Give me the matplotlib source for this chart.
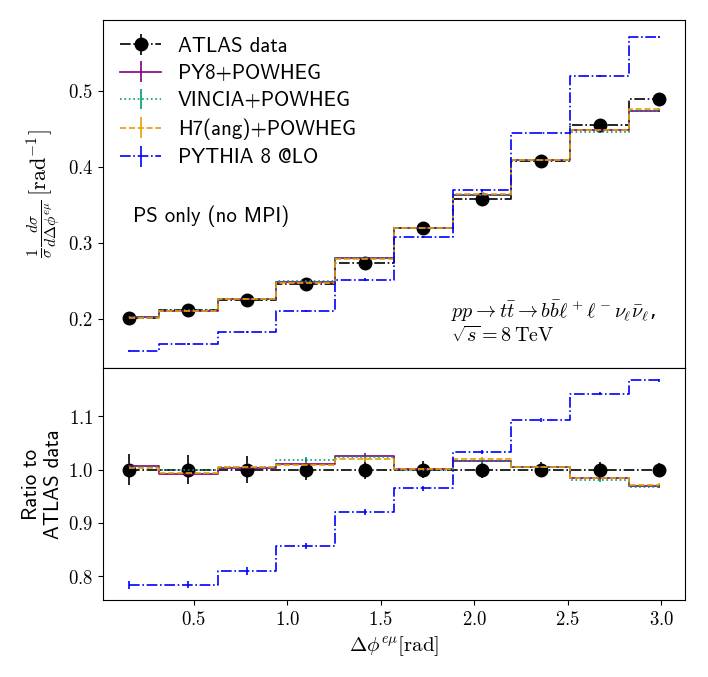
import numpy as np
import matplotlib
matplotlib.use("Agg")
import matplotlib.pyplot as plt
from matplotlib.ticker import FuncFormatter

plt.rcParams['mathtext.fontset'] = 'cm'
sans = ['cmss10', 'DejaVu Sans']

# bin centres of delta phi (rad)
dphi = [0.157, 0.471, 0.785, 1.100, 1.414, 1.728, 2.042, 2.356, 2.670, 2.985]

atlas = [0.201, 0.212, 0.225, 0.245, 0.273, 0.319, 0.357, 0.407, 0.455, 0.489]
atlas_err = [0.0060, 0.0057, 0.0056, 0.0049, 0.0049, 0.0051, 0.0054, 0.0057, 0.0064, 0.0064]

py8 = [0.2022, 0.2101, 0.2257, 0.2477, 0.2798, 0.3193, 0.3627, 0.4086, 0.4477, 0.4738]
vincia = [0.2020, 0.2118, 0.2261, 0.2494, 0.2796, 0.3190, 0.3624, 0.4086, 0.4459, 0.4734]
h7 = [0.2014, 0.2105, 0.2259, 0.2470, 0.2785, 0.3196, 0.3641, 0.4086, 0.4482, 0.4753]
py8_lo = [0.1574, 0.1664, 0.1823, 0.2100, 0.2514, 0.3078, 0.3688, 0.4444, 0.5196, 0.5707]
mc_err = 0.0015

models = [
    ("PY8+POWHEG", py8, "purple", "-"),
    ("VINCIA+POWHEG", vincia, "#009E73", ":"),
    ("H7(ang)+POWHEG", h7, "#E69F00", "--"),
    ("PYTHIA 8 @LO", py8_lo, "blue", "-."),
]

x = np.array(dphi)
data = np.array(atlas)
derr = np.array(atlas_err)

fig = plt.figure(figsize=(7.08, 6.77), dpi=100)
ax1 = fig.add_axes([0.1455, 0.4564, 0.822, 0.5141])
ax2 = fig.add_axes([0.1455, 0.1137, 0.822, 0.3427], sharex=ax1)

ax1.errorbar(x, data, yerr=derr, fmt='o', ls='-.', drawstyle='steps-mid',
             color='black', ms=9, lw=1.2, label="ATLAS data")
ax2.errorbar(x, data / data, yerr=derr / data, fmt='o', ls='-.', drawstyle='steps-mid',
             color='black', ms=9, lw=1.2)

for name, vals, col, ls in models:
    v = np.array(vals)
    ax1.errorbar(x, v, yerr=mc_err, ls=ls, drawstyle='steps-mid', color=col,
                 lw=1.2, label=name)
    ax2.errorbar(x, v / data, yerr=mc_err / data, ls=ls, drawstyle='steps-mid',
                 color=col, lw=1.2)

fmt = FuncFormatter(lambda v, p: f"${v:.1f}$")
ax1.yaxis.set_major_formatter(fmt)
ax2.yaxis.set_major_formatter(fmt)
ax2.xaxis.set_major_formatter(fmt)
ax1.tick_params(labelbottom=False)
for a in (ax1, ax2):
    a.tick_params(labelsize=13.5)

ax1.set_yticks([0.2, 0.3, 0.4, 0.5])
ax2.set_yticks([0.8, 0.9, 1.0, 1.1])
ax2.set_xticks([0.5, 1.0, 1.5, 2.0, 2.5, 3.0])

ax1.set_ylabel(r"$\frac{1}{\sigma}\frac{d\sigma}{d\Delta\phi^{e\mu}}\,[\mathrm{rad}^{-1}]$", fontsize=16)
ax2.set_ylabel("Ratio to\nATLAS data", fontsize=15, family=sans)
ax2.set_xlabel(r"$\Delta\phi^{e\mu}[\mathrm{rad}]$", fontsize=15)

ax1.text(0.052, 0.42, "PS only (no MPI)", transform=ax1.transAxes, fontsize=15, family=sans)
ax1.text(0.598, 0.145, r"$pp\to t\bar{t}\to b\bar{b}\ell^+\ell^-\nu_\ell\bar{\nu}_\ell$,",
         transform=ax1.transAxes, fontsize=14.5)
ax1.text(0.598, 0.075, r"$\sqrt{s}=8\,\mathrm{TeV}$", transform=ax1.transAxes, fontsize=14.5)

ax1.legend(loc='upper left', frameon=False, prop={'family': sans, 'size': 15},
           handlelength=2.0, labelspacing=0.4, borderaxespad=0.4)

fig.savefig("out.png", dpi=100)
